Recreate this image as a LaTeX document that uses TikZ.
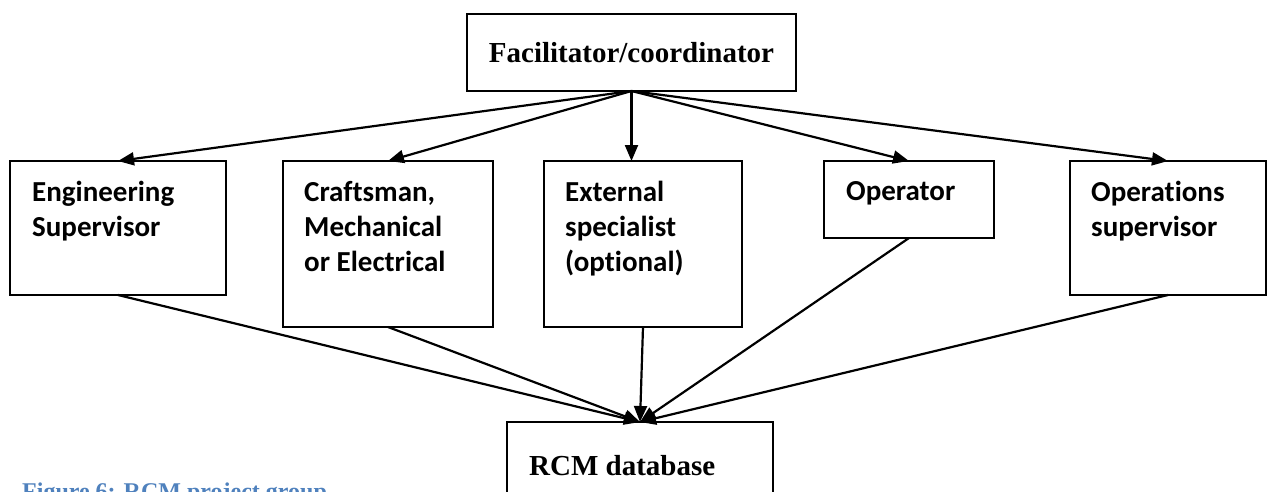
\documentclass[tikz,border=0pt]{standalone}
\usepackage{fontspec}
\setmainfont{Liberation Serif}
\newfontfamily\boxfont[Ligatures=NoCommon]{Carlito}
\usepackage{xcolor}
\usetikzlibrary{arrows.meta,positioning}
\definecolor{capblue}{HTML}{4F81BD}

\tikzset{
  box/.style={draw, line width=1.5pt, inner sep=0pt, outer sep=0pt},
  lbl/.style={inner sep=0pt, align=left, font=\boxfont\bfseries\fontsize{29}{35}\selectfont},
  title/.style={inner sep=0pt, font=\bfseries\fontsize{29}{35}\selectfont},
  arr/.style={-{Triangle[length=16pt,width=13pt]}, line width=2.2pt},
}

\begin{document}
\begin{tikzpicture}[x=1pt, y=-1pt]
    \useasboundingbox (0,0) rectangle (1267,491);

    % Facilitator
    \node[box, minimum width=329pt, minimum height=77pt] (fac) at (631.5,52.5) {};
    \node[title] (factxt) at (631.5,52.5) {Facilitator/coordinator};

    % Team members
    \node[box, minimum width=216pt, minimum height=134pt] (eng) at (118,228) {};
    \node[lbl, below right=20pt and 22pt of eng.north west] (engtxt) {Engineering\\Supervisor};

    \node[box, minimum width=210pt, minimum height=166pt] (craft) at (388,244) {};
    \node[lbl, below right=20pt and 21pt of craft.north west] (crafttxt) {Craftsman,\\Mechanical\\or Electrical};

    \node[box, minimum width=198pt, minimum height=166pt] (ext) at (643,244) {};
    \node[lbl, below right=20pt and 21pt of ext.north west] (exttxt) {External\\specialist\\(optional)};

    \node[box, minimum width=170pt, minimum height=77pt] (oper) at (909,199.5) {};
    \node[lbl, below right=20pt and 22pt of oper.north west] (opertxt) {Operator};

    \node[box, minimum width=196pt, minimum height=134pt] (opsup) at (1168,228) {};
    \node[lbl, below right=20pt and 21pt of opsup.north west] (opsuptxt) {Operations\\supervisor};

    % Database
    \node[box, minimum width=266pt, minimum height=98pt] (rcm) at (640,471) {};
    \node[title, anchor=base west] (rcmtxt) at (529,475) {RCM database};

    % Caption (cut off at the bottom)
    \node[inner sep=0pt, anchor=base west, text=capblue, font=\bfseries\fontsize{24}{28}\selectfont] (caption) at (22,499) {Figure 6: RCM project group};

    % Arrows down to the team
    \draw[arr] (fac.south) -- (eng.north);
    \draw[arr] (fac.south) -- (craft.north);
    \draw[arr] (fac.south) -- (ext.north -| fac.south);
    \draw[arr] (fac.south) -- (oper.north);
    \draw[arr] (fac.south) -- (opsup.north);

    % Arrows into the database
    \draw[arr] (eng.south) -- (rcm.north);
    \draw[arr] (craft.south) -- (rcm.north);
    \draw[arr] (ext.south) -- (rcm.north);
    \draw[arr] (oper.south) -- (rcm.north);
    \draw[arr] (opsup.south) -- (rcm.north);
\end{tikzpicture}
\end{document}
